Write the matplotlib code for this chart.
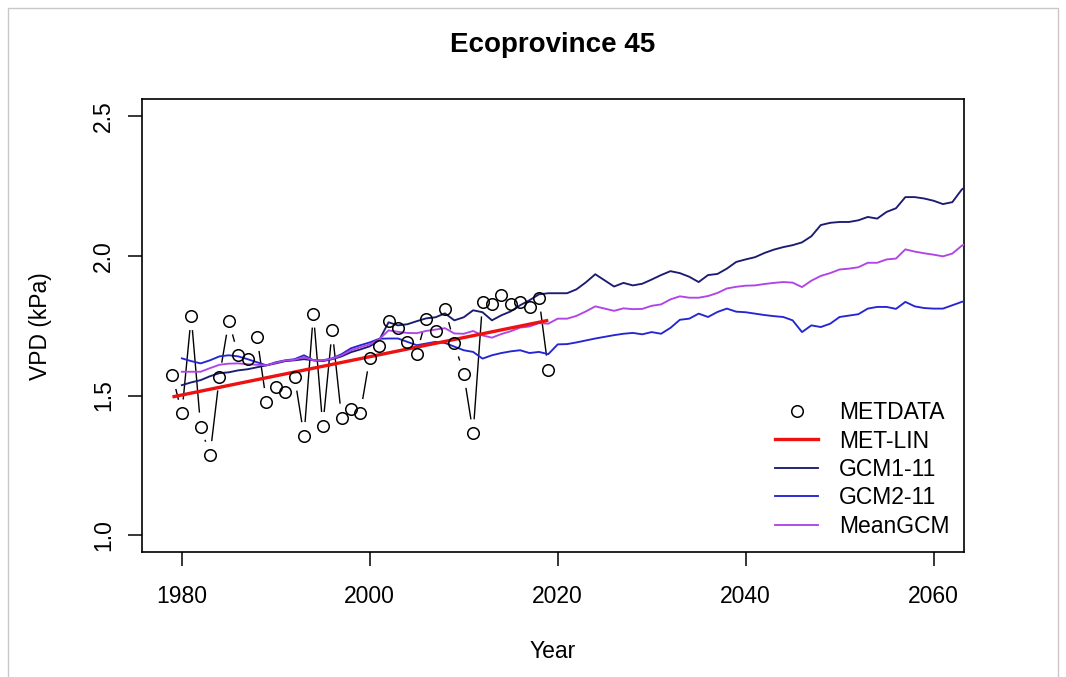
import numpy as np
import matplotlib
matplotlib.use("Agg")
import matplotlib.pyplot as plt
from matplotlib.lines import Line2D
from matplotlib.collections import LineCollection
from matplotlib.patches import Rectangle

# ---------------- data ----------------
met_years = list(range(1979, 2020))
met_vpd = [1.572, 1.436, 1.784, 1.389, 1.287, 1.568, 1.767, 1.644, 1.632, 1.709,
           1.477, 1.531, 1.513, 1.567, 1.355, 1.793, 1.391, 1.733, 1.421, 1.453,
           1.438, 1.636, 1.676, 1.766, 1.740, 1.692, 1.650, 1.775, 1.731, 1.811,
           1.688, 1.577, 1.365, 1.833, 1.827, 1.859, 1.829, 1.834, 1.817, 1.850,
           1.593]

lin_years = [1979, 2019]
lin_vpd = [1.495, 1.769]

gcm_years = list(range(1980, 2065))
gcm1 = [1.537, 1.547, 1.555, 1.569, 1.580, 1.583, 1.590, 1.594, 1.601, 1.608,
        1.615, 1.623, 1.626, 1.630, 1.626, 1.623, 1.630, 1.640, 1.655, 1.665,
        1.676, 1.698, 1.762, 1.751, 1.755, 1.766, 1.776, 1.780, 1.794, 1.769,
        1.780, 1.805, 1.798, 1.769, 1.787, 1.801, 1.823, 1.841, 1.862, 1.866,
        1.866, 1.866, 1.880, 1.905, 1.934, 1.912, 1.890, 1.903, 1.894, 1.900,
        1.915, 1.931, 1.945, 1.938, 1.925, 1.906, 1.931, 1.935, 1.954, 1.978,
        1.987, 1.995, 2.010, 2.022, 2.031, 2.038, 2.048, 2.070, 2.110, 2.118,
        2.121, 2.121, 2.127, 2.139, 2.133, 2.157, 2.170, 2.210, 2.210, 2.205,
        2.197, 2.185, 2.192, 2.237, 2.260]
gcm2 = [1.633, 1.623, 1.615, 1.626, 1.640, 1.644, 1.640, 1.630, 1.619, 1.608,
        1.619, 1.626, 1.630, 1.644, 1.626, 1.626, 1.633, 1.648, 1.669, 1.680,
        1.690, 1.703, 1.704, 1.704, 1.692, 1.680, 1.686, 1.692, 1.688, 1.675,
        1.662, 1.656, 1.632, 1.644, 1.652, 1.658, 1.662, 1.652, 1.656, 1.648,
        1.683, 1.684, 1.690, 1.697, 1.704, 1.710, 1.716, 1.721, 1.724, 1.719,
        1.727, 1.721, 1.742, 1.771, 1.775, 1.793, 1.781, 1.799, 1.811, 1.800,
        1.798, 1.793, 1.788, 1.784, 1.781, 1.769, 1.727, 1.751, 1.745, 1.757,
        1.781, 1.786, 1.791, 1.811, 1.817, 1.817, 1.810, 1.835, 1.819, 1.813,
        1.811, 1.811, 1.823, 1.835, 1.845]
gcm_mean = [1.585, 1.585, 1.585, 1.598, 1.610, 1.614, 1.615, 1.612, 1.610, 1.608,
            1.617, 1.625, 1.628, 1.637, 1.626, 1.625, 1.632, 1.644, 1.662, 1.673,
            1.683, 1.701, 1.733, 1.728, 1.724, 1.723, 1.731, 1.736, 1.741, 1.722,
            1.721, 1.731, 1.715, 1.707, 1.720, 1.730, 1.743, 1.747, 1.759, 1.757,
            1.775, 1.775, 1.785, 1.801, 1.819, 1.811, 1.803, 1.812, 1.809, 1.810,
            1.821, 1.826, 1.844, 1.855, 1.850, 1.850, 1.856, 1.867, 1.883, 1.889,
            1.893, 1.894, 1.899, 1.903, 1.906, 1.904, 1.888, 1.911, 1.928, 1.938,
            1.951, 1.954, 1.959, 1.975, 1.975, 1.987, 1.990, 2.023, 2.015, 2.009,
            2.004, 1.998, 2.008, 2.036, 2.053]

x_ticks = [1980, 2000, 2020, 2040, 2060]
y_ticks = [1.0, 1.5, 2.0, 2.5]
y_tick_labels = ["1.0", "1.5", "2.0", "2.5"]
legend_labels = ["METDATA", "MET-LIN", "GCM1-11", "GCM2-11", "MeanGCM"]

title = "Ecoprovince 45"
x_label = "Year"
y_label = "VPD (kPa)"

# ---------------- style ----------------
plt.rcParams['font.family'] = ['Liberation Sans', 'DejaVu Sans']
W, H = 1066, 677
FS = 16.5
C_GCM1 = '#1b1b72'
C_GCM2 = '#2525d4'
C_MEAN = '#b044e6'
C_LIN = '#ee1111'

fig = plt.figure(figsize=(W / 100, H / 100), dpi=100)
fig.patch.set_facecolor('white')

# light frame around the picture
fig.add_artist(Rectangle((8 / W, -0.01), (1058 - 8) / W, (H - 8) / H + 0.01,
                         transform=fig.transFigure, fill=False,
                         edgecolor='#c8c8c8', linewidth=1.0))

ax = fig.add_axes([142 / W, 1 - 552 / H, (964 - 142) / W, (552 - 99.3) / H])
ax.set_xlim(1979 - 0.04 * 81, 2060 + 0.04 * 81)
ax.set_ylim(1.0 - 0.04 * 1.5, 2.5 + 0.04 * 1.5)

# GCM lines
ax.plot(gcm_years, gcm1, color=C_GCM1, lw=1.35, zorder=3)
ax.plot(gcm_years, gcm2, color=C_GCM2, lw=1.35, zorder=3)
ax.plot(gcm_years, gcm_mean, color=C_MEAN, lw=1.35, zorder=3)

# linear trend
ax.plot(lin_years, lin_vpd, color=C_LIN, lw=2.4, zorder=4, solid_capstyle='butt')

# METDATA: points with gapped connecting segments (R type="b")
ax.plot(met_years, met_vpd, linestyle='none', marker='o', markersize=8.3,
        markerfacecolor='none', markeredgecolor='black', markeredgewidth=1.1,
        zorder=5)
GAP_PX = 14.0
pts = ax.transData.transform(np.column_stack([met_years, met_vpd]))
inv = ax.transData.inverted()
segs = []
for p0, p1 in zip(pts[:-1], pts[1:]):
    d = np.hypot(*(p1 - p0))
    f = GAP_PX / d
    if f < 0.5:
        a = p0 + f * (p1 - p0)
        b = p1 - f * (p1 - p0)
        segs.append(inv.transform(np.array([a, b])))
ax.add_collection(LineCollection(segs, colors='black', linewidths=1.0, zorder=2))

# axes styling
for sp in ax.spines.values():
    sp.set_linewidth(1.2)
    sp.set_color('black')
ax.set_xticks(x_ticks)
ax.set_xticklabels([str(v) for v in x_ticks])
ax.set_yticks(y_ticks)
ax.set_yticklabels(y_tick_labels)
ax.tick_params(axis='both', direction='out', length=10, width=1.1,
               labelsize=FS, colors='black')
ax.tick_params(axis='x', pad=14)
ax.tick_params(axis='y', pad=9.5)
for lab in ax.get_yticklabels():
    lab.set_rotation(90)
    lab.set_va('center')

fig.text(553 / W, 1 - 45 / H, title, ha='center', va='center',
         fontsize=20, fontweight='bold')
fig.text(553 / W, 1 - 652 / H, x_label, ha='center', va='center', fontsize=FS)
fig.text(40 / W, 1 - 326 / H, y_label, ha='center', va='center',
         fontsize=FS, rotation=90)

handles = [
    Line2D([], [], linestyle='none', marker='o', markersize=8.3,
           markerfacecolor='none', markeredgecolor='black', markeredgewidth=1.1),
    Line2D([], [], color=C_LIN, lw=2.4),
    Line2D([], [], color=C_GCM1, lw=1.35),
    Line2D([], [], color=C_GCM2, lw=1.35),
    Line2D([], [], color=C_MEAN, lw=1.35),
]
ax.legend(handles, legend_labels, loc='upper left',
          bbox_to_anchor=(775 / W, 1 - 401 / H), bbox_transform=fig.transFigure,
          frameon=False, fontsize=FS, handlelength=1.89, handletextpad=0.9,
          labelspacing=0.24, borderpad=0, borderaxespad=0)

fig.savefig('out.png', dpi=100, facecolor='white')
